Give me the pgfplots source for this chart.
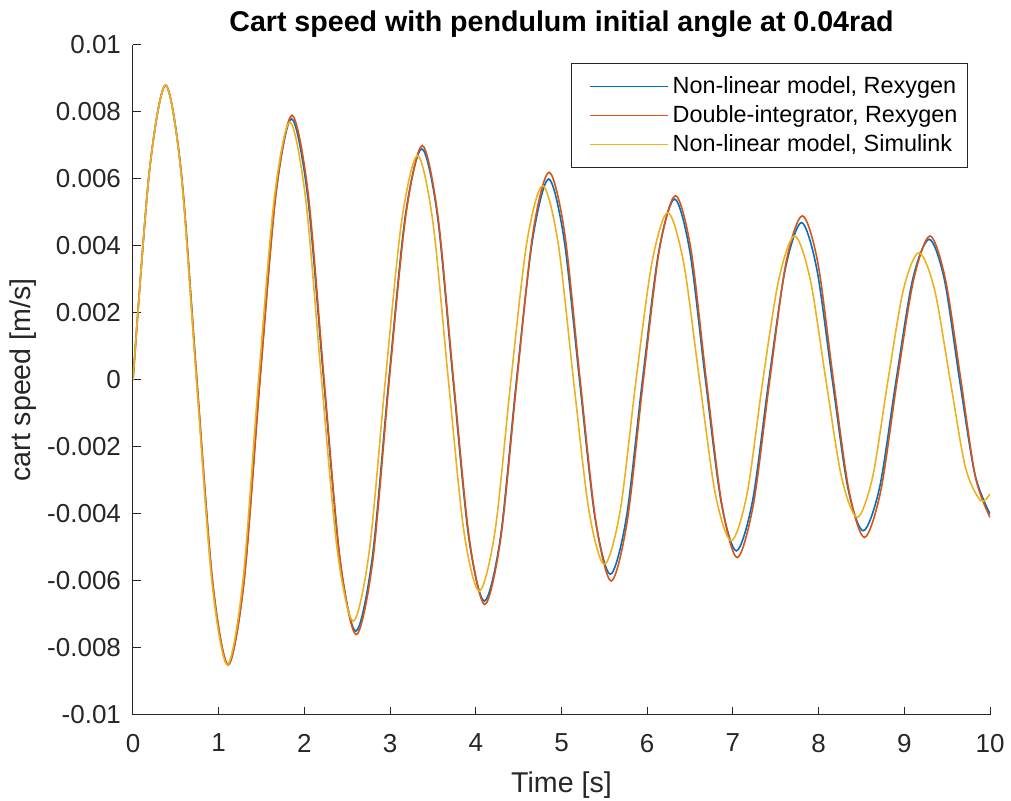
\documentclass[border=0pt]{standalone}
\usepackage{pgfplots}
\pgfplotsset{compat=1.18}
\usepackage{fontspec}
\setmainfont{Liberation Sans}
\definecolor{mblue}{rgb}{0,0.447,0.741}
\definecolor{mred}{rgb}{0.85,0.325,0.098}
\definecolor{myellow}{rgb}{0.929,0.694,0.125}
\definecolor{axgray}{rgb}{0.15,0.15,0.15}
\begin{document}
\begin{tikzpicture}
\path[use as bounding box] (-66.5pt,-43pt) rectangle (439pt,357.5pt);
\begin{axis}[
  scale only axis,
  width=428.5pt, height=335pt,
  xmin=0, xmax=10, ymin=-0.01, ymax=0.01,
  axis lines*=left,
  axis line style={-, axgray, line width=0.5pt},
  tick align=inside,
  major tick length=4pt,
  tick style={axgray, line width=0.5pt},
  xtick={0,1,...,10},
  ytick={-0.01,-0.008,-0.006,-0.004,-0.002,0,0.002,0.004,0.006,0.008,0.01},
  scaled y ticks=false,
  yticklabel style={/pgf/number format/.cd, fixed, precision=3, assume math mode=true, /tikz/.cd, xshift=-2.5pt},
  xticklabel style={/pgf/number format/assume math mode=true, yshift=-6pt},
  ticklabel style={font=\fontsize{13}{15}\selectfont, text=axgray},
  xlabel={Time [s]},
  ylabel={cart speed [m/s]},
  label style={font=\fontsize{14.3}{17}\selectfont, text=axgray},
  xlabel style={yshift=-3pt},
  ylabel style={at={(axis description cs:-0.1039,0.5)}, anchor=south},
  title={\textbf{Cart speed with pendulum initial angle at 0.04rad}},
  title style={font=\fontsize{14.3}{17}\selectfont, yshift=-6pt},
  legend cell align=left,
  legend image code/.code={\path (0pt,0pt); \draw[#1] (6pt,0pt) -- (45pt,0pt);},
  legend style={at={(axis description cs:0.9743,0.9731)}, anchor=north east,
    draw=axgray, line width=0.5pt, font=\fontsize{11.7}{14}\selectfont,
    inner xsep=3pt, inner ysep=4.5pt, row sep=0.5pt},
]
\addplot[draw=mblue, line width=0.8pt, smooth] coordinates {
(0.000,0.0000) (0.190,0.0062) (0.380,0.0088) (0.5625,0.0062) (0.745,0.0000)
(0.9275,-0.0060) (1.110,-0.0085) (1.295,-0.0060) (1.480,0.0000)
(1.665,0.0055) (1.850,0.0078) (2.0375,0.0055) (2.225,0.0000)
(2.4125,-0.0053) (2.600,-0.0075) (2.7925,-0.0053) (2.985,0.0000)
(3.1775,0.0049) (3.370,0.0069) (3.5525,0.0049) (3.735,0.0000)
(3.9175,-0.0047) (4.100,-0.0066) (4.2875,-0.0047) (4.475,0.0000)
(4.6625,0.0042) (4.850,0.0060) (5.030,0.0042) (5.210,0.0000)
(5.390,-0.0041) (5.570,-0.0058) (5.7575,-0.0041) (5.945,0.0000)
(6.1325,0.0038) (6.320,0.0054) (6.500,0.0038) (6.680,0.0000)
(6.860,-0.0036) (7.040,-0.0051) (7.230,-0.0036) (7.420,0.0000)
(7.610,0.0033) (7.800,0.0047) (7.980,0.0033) (8.160,0.0000)
(8.340,-0.0032) (8.520,-0.0045) (8.7125,-0.0032) (8.905,0.0000)
(9.0975,0.0030) (9.290,0.0042) (9.4675,0.0030) (9.645,0.0000)
(9.8225,-0.0028) (10.000,-0.0040)
};
\addlegendentry{Non-linear model, Rexygen}
\addplot[draw=mred, line width=0.8pt, smooth] coordinates {
(0,0) (0.19,0.0062) (0.38,0.0088) (0.5625,0.0062) (0.745,0)
(0.9275,-0.0060) (1.11,-0.0085) (1.296,-0.0060) (1.4825,0)
(1.669,0.0056) (1.855,0.0079) (2.0425,0.0056) (2.23,0)
(2.4175,-0.0054) (2.605,-0.0076) (2.7975,-0.0054) (2.99,0)
(3.1825,0.0049) (3.375,0.0070) (3.5575,0.0049) (3.74,0)
(3.9225,-0.0047) (4.105,-0.0067) (4.2925,-0.0047) (4.48,0)
(4.6675,0.0044) (4.855,0.0062) (5.036,0.0044) (5.2175,0)
(5.399,-0.0042) (5.58,-0.0060) (5.7675,-0.0042) (5.955,0)
(6.1425,0.0039) (6.33,0.0055) (6.51,0.0039) (6.69,0)
(6.87,-0.0037) (7.05,-0.0053) (7.24,-0.0037) (7.43,0)
(7.62,0.0035) (7.81,0.0049) (7.991,0.0035) (8.1725,0)
(8.354,-0.0033) (8.535,-0.0047) (8.726,-0.0033) (8.9175,0)
(9.109,0.0030) (9.30,0.0043) (9.48,0.0030) (9.66,0)
(9.83,-0.0029) (10.0,-0.0041)
};
\addlegendentry{Double-integrator, Rexygen}
\addplot[draw=myellow, line width=0.8pt, smooth] coordinates {
(0,0) (0.19,0.0062) (0.38,0.0088) (0.56,0.0062) (0.74,0)
(0.92,-0.0060) (1.10,-0.0085) (1.2825,-0.0060) (1.465,0)
(1.6475,0.0054) (1.83,0.0077) (2.015,0.0054) (2.20,0)
(2.385,-0.0051) (2.57,-0.0072) (2.7575,-0.0051) (2.945,0)
(3.1325,0.0047) (3.32,0.0067) (3.50,0.0047) (3.68,0)
(3.86,-0.0045) (4.04,-0.0063) (4.225,-0.0045) (4.41,0)
(4.595,0.0041) (4.78,0.0058) (4.96,0.0041) (5.14,0)
(5.32,-0.0039) (5.50,-0.0055) (5.685,-0.0039) (5.87,0)
(6.055,0.0035) (6.24,0.0050) (6.425,0.0035) (6.61,0)
(6.795,-0.0034) (6.98,-0.0048) (7.165,-0.0034) (7.35,0)
(7.535,0.0030) (7.72,0.0043) (7.9025,0.0030) (8.085,0)
(8.2675,-0.0029) (8.45,-0.0041) (8.63,-0.0029) (8.81,0)
(8.99,0.0027) (9.17,0.0038) (9.3525,0.0027) (9.535,0)
(9.7125,-0.0026) (9.89,-0.0036) (10.0,-0.0034)
};
\addlegendentry{Non-linear model, Simulink}
\end{axis}
\end{tikzpicture}
\end{document}
